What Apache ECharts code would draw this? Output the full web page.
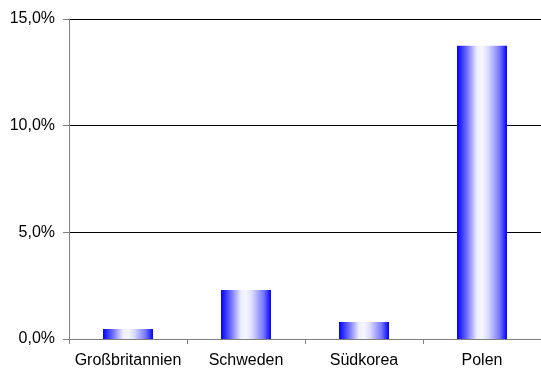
<!DOCTYPE html>
<html><head><meta charset="utf-8">
<script src="https://cdn.jsdelivr.net/npm/echarts@6/dist/echarts.min.js"></script>
<style>html,body{margin:0;padding:0;background:#fff}#c{width:541px;height:369px}</style>
</head><body><div id="c"></div>
<script>
const categories = ['Großbritannien', 'Schweden', 'Südkorea', 'Polen'];
const values = [0.47, 2.3, 0.8, 13.75];
const yTicks = [0, 5, 10, 15];

const chart = echarts.init(document.getElementById('c'), null, {renderer: 'canvas'});
const fmt = v => v.toFixed(1).replace('.', ',') + '%';
chart.setOption({
  animation: false,
  backgroundColor: '#ffffff',
  grid: {left: 69, right: -4, top: 19, bottom: 30, containLabel: false},
  xAxis: {
    type: 'category',
    data: categories,
    axisLine: {show: true, lineStyle: {color: '#808080', width: 1}},
    axisTick: {show: true, interval: 0, length: 5, inside: false, lineStyle: {color: '#808080'}},
    axisLabel: {interval: 0, color: '#000', fontFamily: 'Liberation Sans, Arial, sans-serif', fontSize: 16, margin: 14}
  },
  yAxis: {
    type: 'value',
    min: yTicks[0], max: yTicks[yTicks.length - 1], interval: 5,
    axisLine: {show: true, lineStyle: {color: '#808080', width: 1}},
    axisTick: {show: true, length: 6, lineStyle: {color: '#808080'}},
    splitLine: {show: true, lineStyle: {color: '#000', width: 1}},
    axisLabel: {color: '#000', fontFamily: 'Liberation Sans, Arial, sans-serif', fontSize: 16, margin: 14, formatter: fmt}
  },
  series: [{
    type: 'bar',
    data: values,
    barWidth: 50,
    itemStyle: {
      color: new echarts.graphic.LinearGradient(0, 0, 1, 0, [
        {offset: 0, color: '#0000ff'},
        {offset: 0.2, color: '#7070ff'},
        {offset: 0.4, color: '#eeeeff'},
        {offset: 0.5, color: '#f6f6ff'},
        {offset: 0.62, color: '#dcdcff'},
        {offset: 0.85, color: '#7878ff'},
        {offset: 1, color: '#0000ff'}
      ])
    }
  }]
});
</script>
</body></html>
